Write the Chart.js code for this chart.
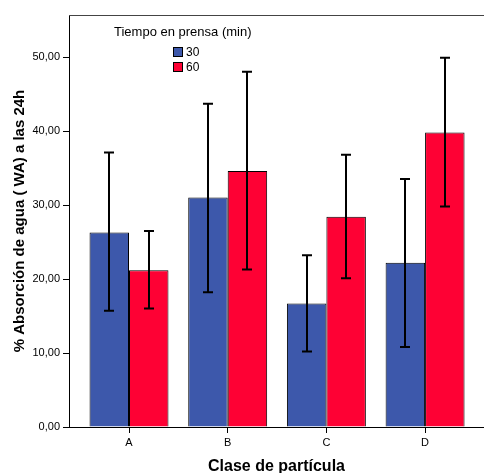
<!DOCTYPE html>
<html>
<head>
<meta charset="utf-8">
<script src="https://cdn.jsdelivr.net/npm/chart.js@4/dist/chart.umd.min.js"></script>
<style>
  html, body { margin: 0; padding: 0; background: #fff; }
  #wrap { width: 484px; height: 473px; }
</style>
</head>
<body>
<div id="wrap"><canvas id="barChart" width="484" height="473"></canvas></div>
<script>
// data
const categories = ['A', 'B', 'C', 'D'];
const seriesLabels = ['30', '60'];
const t30 = [26.3, 31.0, 16.7, 22.2];
const t60 = [21.2, 34.6, 28.4, 39.8];
const t30Low = [15.7, 18.2, 10.2, 10.8];
const t30High = [37.1, 43.7, 23.2, 33.5];
const t60Low = [16.0, 21.3, 20.1, 29.8];
const t60High = [26.5, 48.0, 36.8, 49.9];
const yTicks = [0, 10, 20, 30, 40, 50];

const FONT = "'Liberation Sans', Arial, sans-serif";
const errLow = [t30Low, t60Low];
const errHigh = [t30High, t60High];

// error bars drawn through the scales
const errorBars = {
    id: 'errorBars',
    afterDatasetsDraw(chart) {
        const ctx = chart.ctx;
        const y = chart.scales.y;
        ctx.save();
        ctx.strokeStyle = '#000';
        ctx.lineWidth = 2;
        chart.data.datasets.forEach(function (ds, i) {
            chart.getDatasetMeta(i).data.forEach(function (bar, j) {
                const x = Math.round(bar.x);
                const top = y.getPixelForValue(errHigh[i][j]);
                const bot = y.getPixelForValue(errLow[i][j]);
                ctx.beginPath();
                ctx.moveTo(x, top); ctx.lineTo(x, bot);
                ctx.moveTo(x - 5, top); ctx.lineTo(x + 5, top);
                ctx.moveTo(x - 5, bot); ctx.lineTo(x + 5, bot);
                ctx.stroke();
            });
        });
        ctx.restore();
    }
};

// top frame line + SPSS-like legend
const frameLegend = {
    id: 'frameLegend',
    afterDraw(chart) {
        const ctx = chart.ctx;
        const a = chart.chartArea;
        ctx.save();
        ctx.strokeStyle = '#444';
        ctx.lineWidth = 1;
        ctx.beginPath();
        ctx.moveTo(a.left, a.top + 0.5);
        ctx.lineTo(a.right, a.top + 0.5);
        ctx.stroke();

        ctx.fillStyle = '#000';
        ctx.textBaseline = 'middle';
        ctx.textAlign = 'left';
        ctx.font = '13px ' + FONT;
        ctx.fillText('Tiempo en prensa (min)', 114, 32);
        ctx.font = '12px ' + FONT;
        chart.data.datasets.forEach(function (ds, i) {
            const by = 47 + i * 15;
            ctx.fillStyle = ds.backgroundColor;
            ctx.fillRect(173, by, 10, 10);
            ctx.strokeStyle = '#000';
            ctx.strokeRect(173.5, by + 0.5, 9, 9);
            ctx.fillStyle = '#000';
            ctx.fillText(ds.label, 186, by + 5.5);
        });
        ctx.restore();
    }
};

const ctx = document.getElementById('barChart').getContext('2d');
new Chart(ctx, {
    type: 'bar',
    data: {
        datasets: [
            {
                label: seriesLabels[0],
                data: t30.map((v, i) => ({ x: i, y: v })),
                backgroundColor: '#3D58AB',
                borderColor: '#000',
                borderWidth: 1
            },
            {
                label: seriesLabels[1],
                data: t60.map((v, i) => ({ x: i, y: v })),
                backgroundColor: '#FE0134',
                borderColor: '#000',
                borderWidth: 1
            }
        ]
    },
    options: {
        responsive: false,
        animation: false,
        categoryPercentage: 0.8,
        barPercentage: 1.0,
        layout: { padding: { top: 15, left: 0, right: 0, bottom: 0 } },
        plugins: {
            legend: { display: false },
            tooltip: { enabled: false }
        },
        scales: {
            x: {
                type: 'linear',
                min: -0.608,
                max: 3.597,
                offset: false,
                afterBuildTicks: function (scale) {
                    scale.ticks = categories.map((c, i) => ({ value: i }));
                },
                afterFit: function (scale) { scale.height = 46; },
                ticks: {
                    autoSkip: false,
                    maxRotation: 0,
                    padding: 3,
                    color: '#000',
                    font: { family: FONT, size: 11 },
                    callback: function (v) { return categories[v]; }
                },
                grid: { offset: false, drawOnChartArea: false, drawTicks: true, tickLength: 6, color: '#000' },
                border: { display: true, color: '#000', width: 1 },
                title: {
                    display: true,
                    text: 'Clase de partícula',
                    color: '#000',
                    font: { family: FONT, size: 16, weight: 'bold', lineHeight: 1 },
                    padding: { top: 0, bottom: -2 }
                }
            },
            y: {
                min: 0,
                max: 55.68,
                afterBuildTicks: function (scale) {
                    scale.ticks = yTicks.map(v => ({ value: v }));
                },
                afterFit: function (scale) { scale.width = 69; },
                ticks: {
                    padding: 3,
                    color: '#000',
                    font: { family: FONT, size: 11 },
                    callback: function (v) { return v.toFixed(2).replace('.', ','); }
                },
                grid: { drawOnChartArea: false, drawTicks: true, tickLength: 6, color: '#000' },
                border: { display: true, color: '#000', width: 1 },
                title: {
                    display: true,
                    text: '% Absorción de agua ( WA) a las 24h',
                    color: '#000',
                    font: { family: FONT, size: 15, weight: 'bold', lineHeight: 1.2 },
                    padding: { top: 11, bottom: 0 }
                }
            }
        }
    },
    plugins: [errorBars, frameLegend]
});
</script>
</body>
</html>
